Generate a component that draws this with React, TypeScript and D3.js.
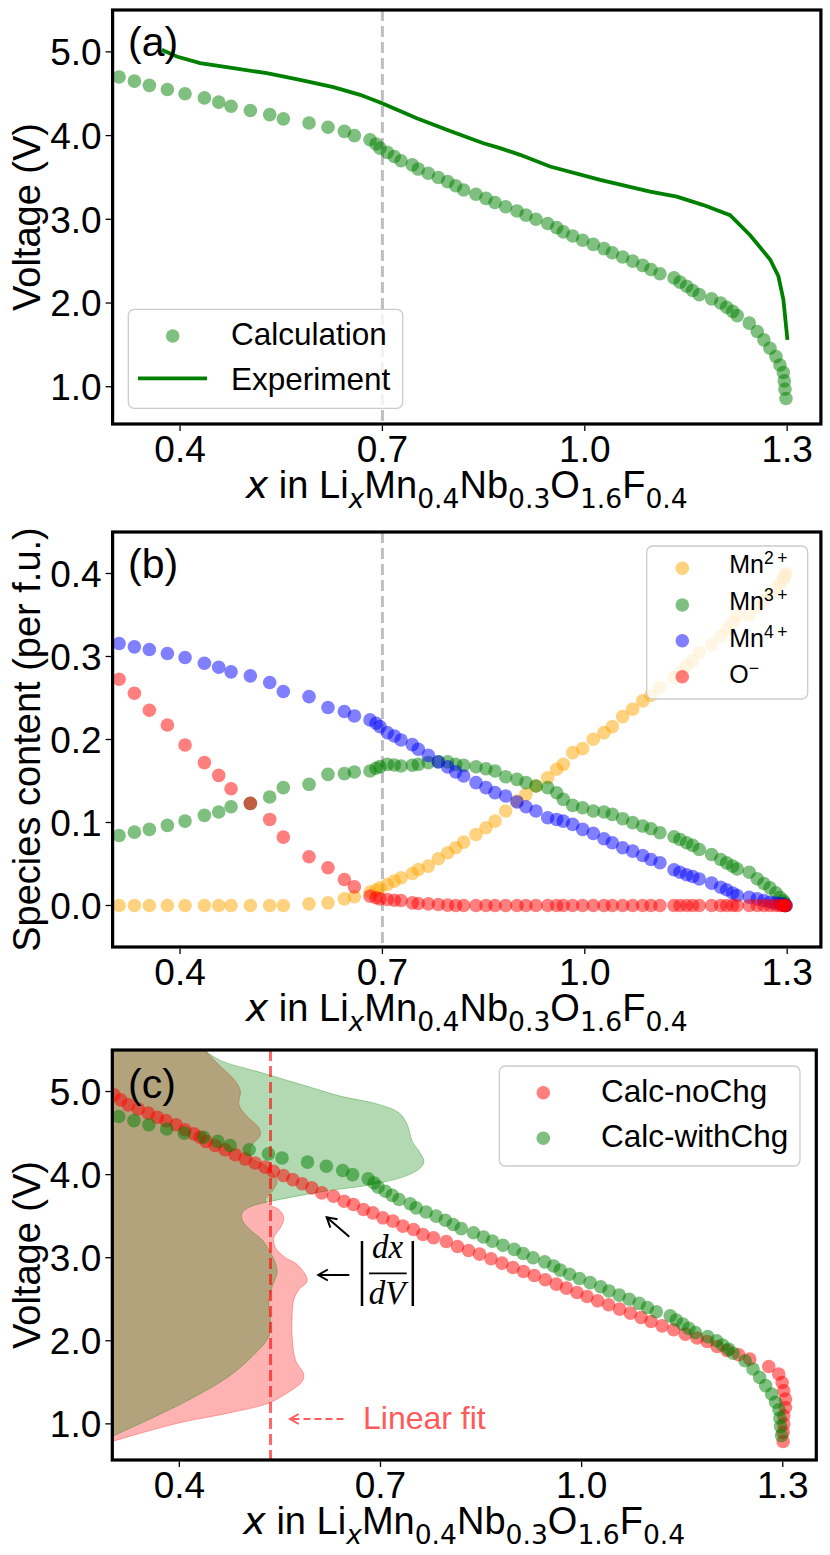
import React from 'react';
import * as d3 from 'd3';

const FONT = '"Liberation Sans", Arial, Helvetica, sans-serif';
const MATHFONT = '"DejaVu Sans", sans-serif';

// ---------- Panel (a) / (c): calculation with charge (x, V) ----------
const calcX = [
  0.3096, 0.3323, 0.3545, 0.3812, 0.4074, 0.4361, 0.4573, 0.4756, 0.5042, 0.5329,
  0.5531, 0.5912, 0.6193, 0.6436, 0.6584, 0.6816, 0.6905, 0.6964, 0.7073, 0.7176,
  0.7276, 0.7443, 0.7532, 0.768, 0.7829, 0.7967, 0.8086, 0.8204, 0.8387, 0.8535,
  0.8669, 0.8827, 0.8995, 0.9128, 0.9276, 0.945, 0.9583, 0.9681, 0.982, 0.9968,
  1.0126, 1.0284, 1.0408, 1.0561, 1.071, 1.0858, 1.0981, 1.1114, 1.1322, 1.1411,
  1.151, 1.1599, 1.1697, 1.188, 1.2014, 1.2103, 1.2192, 1.226, 1.2438, 1.2556,
  1.2655, 1.2745, 1.2834, 1.2893, 1.2943, 1.2957, 1.2967, 1.2982,
];
const calcV = [
  4.70, 4.65, 4.60, 4.55, 4.50, 4.45, 4.40, 4.35, 4.30, 4.25,
  4.20, 4.15, 4.10, 4.05, 4.00, 3.95, 3.90, 3.85, 3.80, 3.75,
  3.70, 3.65, 3.60, 3.55, 3.50, 3.45, 3.40, 3.35, 3.30, 3.25,
  3.20, 3.15, 3.10, 3.05, 3.00, 2.95, 2.90, 2.85, 2.80, 2.75,
  2.70, 2.65, 2.60, 2.55, 2.50, 2.45, 2.40, 2.35, 2.30, 2.25,
  2.20, 2.15, 2.10, 2.05, 2.00, 1.95, 1.90, 1.85, 1.76, 1.66,
  1.56, 1.46, 1.36, 1.26, 1.17, 1.07, 0.97, 0.86,
];

// ---------- Panel (a): experiment ----------
const expX = [
  0.3729, 0.3951, 0.4297, 0.479, 0.5285, 0.5779, 0.6273, 0.6669, 0.6995, 0.7509,
  0.8003, 0.8497, 0.8744, 0.9041, 0.9485, 1.0227, 1.0968, 1.1363, 1.1758, 1.2154,
  1.2451, 1.2747, 1.287, 1.2944, 1.3004,
];
const expV = [
  5.024, 4.944, 4.865, 4.805, 4.745, 4.666, 4.578, 4.487, 4.387, 4.208,
  4.055, 3.909, 3.85, 3.77, 3.63, 3.47, 3.33, 3.27, 3.17, 3.05,
  2.81, 2.52, 2.32, 2.04, 1.56,
];

// ---------- Panel (b): species content (per f.u.), same x as calcX ----------
const mn2Plus = [
  0, 0, 0, 0, 0, 0, 0, 0, 0, 0,
  0, 0.002, 0.0032, 0.008, 0.0105, 0.0161, 0.0185, 0.0213, 0.0253, 0.0294,
  0.0334, 0.0386, 0.0434, 0.0474, 0.0563, 0.0635, 0.0696, 0.0764, 0.0856, 0.0937,
  0.1017, 0.1138, 0.1258, 0.1339, 0.144, 0.154, 0.1641, 0.1701, 0.1842, 0.189,
  0.2003, 0.2083, 0.2155, 0.2276, 0.2365, 0.2465, 0.2534, 0.2626, 0.2747, 0.2807,
  0.2888, 0.2948, 0.3049, 0.3138, 0.3242, 0.3331, 0.3411, 0.3492, 0.35, 0.36,
  0.3675, 0.3747, 0.3817, 0.388, 0.393, 0.396, 0.3983, 0.4,
];
const mn3Plus = [
  0.0844, 0.0884, 0.0917, 0.0965, 0.1017, 0.1086, 0.1126, 0.119, 0.123, 0.1307,
  0.142, 0.146, 0.158, 0.1589, 0.1609, 0.1621, 0.1653, 0.1673, 0.1701, 0.1693,
  0.1681, 0.1689, 0.1701, 0.1721, 0.1733, 0.1731, 0.17, 0.1688, 0.1672, 0.1648,
  0.162, 0.1552, 0.152, 0.148, 0.144, 0.142, 0.1359, 0.1279, 0.1206, 0.1178,
  0.1138, 0.1126, 0.1098, 0.1046, 0.0998, 0.0957, 0.0925, 0.0877, 0.0828, 0.0796,
  0.0756, 0.0724, 0.0675, 0.0615, 0.0555, 0.0514, 0.0474, 0.044, 0.04, 0.0322,
  0.0265, 0.0213, 0.0153, 0.01, 0.006, 0.0035, 0.0015, 0,
];
const mn4Plus = [
  0.3156, 0.3116, 0.3084, 0.3036, 0.2988, 0.2919, 0.2871, 0.2815, 0.2767, 0.2686,
  0.2578, 0.2517, 0.2385, 0.2337, 0.2284, 0.2236, 0.2195, 0.2155, 0.2083, 0.2043,
  0.1994, 0.1938, 0.1882, 0.1809, 0.1729, 0.167, 0.161, 0.156, 0.148, 0.142,
  0.136, 0.132, 0.1247, 0.119, 0.1138, 0.1058, 0.1037, 0.1017, 0.0977, 0.0917,
  0.0869, 0.0804, 0.0756, 0.0696, 0.0655, 0.0603, 0.0555, 0.0515, 0.043, 0.04,
  0.037, 0.035, 0.032, 0.027, 0.022, 0.019, 0.015, 0.012, 0.01, 0.008,
  0.006, 0.004, 0.003, 0.002, 0.001, 0.0005, 0.0002, 0,
];
const oMinus = [
  0.2726, 0.2557, 0.2352, 0.2175, 0.1934, 0.1721, 0.1568, 0.1407, 0.123, 0.1037,
  0.0824, 0.0587, 0.0455, 0.0314, 0.0225, 0.0113, 0.0093, 0.008, 0.0072, 0.0064,
  0.006, 0.0032, 0.0024, 0.002, 0.0012, 0.0004, 0, 0, 0, 0,
  0, 0, 0, 0, 0, 0, 0, 0, 0, 0,
  0, 0, 0, 0, 0, 0, 0, 0, 0, 0,
  0, 0, 0, 0, 0, 0, 0, 0, 0, 0,
  0, 0, 0, 0, 0, 0, 0, 0,
];

// ---------- Panel (c): calculation without charge (x, V) ----------
const noChgX = [
  0.3025, 0.3125, 0.3239, 0.3388, 0.3537, 0.3672, 0.3801, 0.3951, 0.4085, 0.4219,
  0.4309, 0.4399, 0.4533, 0.4682, 0.4831, 0.4981, 0.513, 0.5279, 0.5403, 0.5552,
  0.5692, 0.5831, 0.5976, 0.6125, 0.6299, 0.6458, 0.6597, 0.6746, 0.6886, 0.7036,
  0.7185, 0.7334, 0.7493, 0.7633, 0.7791, 0.7981, 0.8149, 0.8313, 0.8478, 0.8648,
  0.8812, 0.8976, 0.9134, 0.9294, 0.9458, 0.9622, 0.9772, 0.9931, 1.0081, 1.0239,
  1.0403, 1.0567, 1.0727, 1.0887, 1.1036, 1.12, 1.1373, 1.1548, 1.1722, 1.1872,
  1.2021, 1.217, 1.2343, 1.2507, 1.2791, 1.294, 1.2991, 1.3015, 1.304, 1.304,
  1.3015, 1.3015, 1.3006, 1.3006,
];
const noChgV = [
  4.96, 4.90, 4.84, 4.79, 4.74, 4.69, 4.65, 4.60, 4.54, 4.49,
  4.45, 4.40, 4.35, 4.30, 4.24, 4.19, 4.14, 4.09, 4.04, 3.99,
  3.94, 3.89, 3.84, 3.78, 3.74, 3.68, 3.64, 3.58, 3.54, 3.48,
  3.44, 3.38, 3.34, 3.28, 3.24, 3.195, 3.135, 3.087, 3.043, 2.987,
  2.935, 2.882, 2.834, 2.786, 2.734, 2.682, 2.634, 2.581, 2.533, 2.481,
  2.433, 2.381, 2.333, 2.28, 2.232, 2.18, 2.132, 2.08, 2.033, 1.992,
  1.932, 1.883, 1.832, 1.78, 1.691, 1.60, 1.498, 1.398, 1.298, 1.197,
  1.097, 0.997, 0.897, 0.788,
];

// |dx/dV| profiles drawn horizontally (V -> right edge in x units)
const noChgFillV = [
  5.62, 5.478, 5.406, 5.285, 5.125, 5.005, 4.844, 4.723, 4.563, 4.483,
  4.32, 4.2, 4.08, 3.92, 3.8, 3.7, 3.64, 3.58, 3.48, 3.36,
  3.24, 3.12, 3.0, 2.935, 2.794, 2.714, 2.614, 2.494, 2.292, 2.052,
  1.771, 1.591, 1.51, 1.41, 1.25, 1.13, 1.01, 0.788, 0.5,
];
const noChgFillX = [
  0.435, 0.4413, 0.4487, 0.4637, 0.4836, 0.491, 0.4887, 0.4985, 0.5185, 0.5209,
  0.506, 0.5085, 0.5334, 0.5458, 0.5384, 0.5284, 0.5334, 0.5484, 0.5558, 0.5507,
  0.5409, 0.5433, 0.5582, 0.5731, 0.5881, 0.5906, 0.5782, 0.5707, 0.5682, 0.5682,
  0.5731, 0.5857, 0.5831, 0.5682, 0.5334, 0.4737, 0.3991, 0.2996, 0.18,
];
const withChgFillV = [
  5.62, 5.514, 5.478, 5.366, 5.225, 5.045, 4.945, 4.844, 4.744, 4.603,
  4.403, 4.283, 4.162, 4.082, 3.982, 3.881, 3.801, 3.729, 3.673, 3.613,
  3.54, 3.456, 3.336, 3.216, 3.095, 2.935, 2.815, 2.653, 2.454, 2.253,
  2.052, 1.811, 1.57, 1.33, 1.089, 0.848, 0.5,
];
const withChgFillX = [
  0.41, 0.4264, 0.4388, 0.4637, 0.5234, 0.5981, 0.64, 0.6976, 0.7275, 0.7399,
  0.7473, 0.7573, 0.7648, 0.7597, 0.7373, 0.6876, 0.6179, 0.5682, 0.5334, 0.5055,
  0.4936, 0.4936, 0.5055, 0.5234, 0.5334, 0.5433, 0.5458, 0.5384, 0.5334, 0.5358,
  0.5334, 0.5085, 0.4737, 0.4239, 0.3642, 0.2996, 0.21,
];

const xTicks = [0.4, 0.7, 1.0, 1.3];
const voltTicks = [1, 2, 3, 4, 5];
const speciesTicks = [0, 0.1, 0.2, 0.3, 0.4];
const dashedXab = 0.7;
const linearFitX = 0.536;

// ---------- scales ----------
const xA = d3.scaleLinear().domain([0.3, 1.35]).range([112.6, 820.9]);
const yA = d3.scaleLinear().domain([0.555, 5.5]).range([424, 10]);
const yB = d3.scaleLinear().domain([-0.05, 0.45]).range([947, 532]);
const xC = d3.scaleLinear().domain([0.3, 1.35]).range([112.3, 816.3]);
const yC = d3.scaleLinear().domain([0.565, 5.5]).range([1460, 1050]);

const R = 6.8;
const TICK_FS = 37;
const LABEL_FS = 38;

type Scale = d3.ScaleLinear<number, number>;

function Axes(props: {
  id: string;
  xs: Scale;
  ys: Scale;
  yTicks: number[];
  yFmt: (v: number) => string;
  ylabel: string;
  children?: React.ReactNode;
  overlay?: React.ReactNode;
}) {
  const { id, xs, ys, yTicks, yFmt, ylabel, children, overlay } = props;
  const [x0, x1] = xs.range();
  const [y1, y0] = ys.range();
  const cx = (x0 + x1) / 2;
  const cy = (y0 + y1) / 2;
  return (
    <g>
      <defs>
        <clipPath id={id}>
          <rect x={x0} y={y0} width={x1 - x0} height={y1 - y0} />
        </clipPath>
      </defs>
      <g clipPath={`url(#${id})`}>{children}</g>
      {overlay}
      <rect x={x0} y={y0} width={x1 - x0} height={y1 - y0} fill="none" stroke="#000" strokeWidth={3.2} />
      {xTicks.map((t) => (
        <g key={'x' + t}>
          <line x1={xs(t)} x2={xs(t)} y1={y1 + 1.5} y2={y1 + 7} stroke="#000" strokeWidth={1.3} />
          <text x={xs(t)} y={y1 + 38} textAnchor="middle" fontSize={TICK_FS} fontFamily={FONT}>
            {t.toFixed(1)}
          </text>
        </g>
      ))}
      {yTicks.map((t) => (
        <g key={'y' + t}>
          <line x1={x0 - 7} x2={x0 - 1.5} y1={ys(t)} y2={ys(t)} stroke="#000" strokeWidth={1.3} />
          <text x={x0 - 11} y={ys(t) + TICK_FS * 0.36} textAnchor="end" fontSize={TICK_FS} fontFamily={FONT}>
            {yFmt(t)}
          </text>
        </g>
      ))}
      <text
        transform={`translate(40, ${cy}) rotate(-90)`}
        textAnchor="middle"
        fontSize={LABEL_FS}
        fontFamily={FONT}
      >
        {ylabel}
      </text>
      <XLabel cx={cx} baseline={y1 + 74} />
    </g>
  );
}

function XLabel({ cx, baseline }: { cx: number; baseline: number }) {
  const sub = 26.6;
  const d = 10;
  return (
    <text x={cx} y={baseline} textAnchor="middle" fontSize={LABEL_FS} fontFamily={FONT}>
      <tspan fontStyle="italic" fontFamily={MATHFONT}>x</tspan>
      <tspan>{' in Li'}</tspan>
      <tspan fontStyle="italic" fontFamily={MATHFONT} fontSize={sub} dy={d}>x</tspan>
      <tspan dy={-d}>Mn</tspan>
      <tspan fontFamily={MATHFONT} fontSize={sub} dy={d}>0.4</tspan>
      <tspan dy={-d}>Nb</tspan>
      <tspan fontFamily={MATHFONT} fontSize={sub} dy={d}>0.3</tspan>
      <tspan dy={-d}>O</tspan>
      <tspan fontFamily={MATHFONT} fontSize={sub} dy={d}>1.6</tspan>
      <tspan dy={-d}>F</tspan>
      <tspan fontFamily={MATHFONT} fontSize={sub} dy={d}>0.4</tspan>
    </text>
  );
}

function Dots({ xs, ys, xv, yv, color }: { xs: Scale; ys: Scale; xv: number[]; yv: number[]; color: string }) {
  return (
    <g>
      {xv.map((x, i) => (
        <circle key={i} cx={xs(x)} cy={ys(yv[i])} r={R} fill={color} fillOpacity={0.5} />
      ))}
    </g>
  );
}

function LegendBox({ x, y, w, h }: { x: number; y: number; w: number; h: number }) {
  return <rect x={x} y={y} width={w} height={h} rx={6} fill="#fff" fillOpacity={0.8} stroke="#cccccc" strokeWidth={1.3} />;
}

type Pt = [number, number];

export default function App() {
  const line = d3
    .line<Pt>()
    .x((d) => xA(d[0]))
    .y((d) => yA(d[1]));
  const expPts: Pt[] = expX.map((x, i) => [x, expV[i]]);

  const area = d3
    .area<Pt>()
    .y((d) => yC(d[0]))
    .x0(() => xC(0.15))
    .x1((d) => xC(d[1]))
    .curve(d3.curveCatmullRom.alpha(0.5));
  const redFill: Pt[] = noChgFillV.map((v, i) => [v, noChgFillX[i]]);
  const greenFill: Pt[] = withChgFillV.map((v, i) => [v, withChgFillX[i]]);

  const fmt1 = (v: number) => v.toFixed(1);
  const lightRed = '#ff5a5a';

  const arrowHead = (tx: number, ty: number, fx: number, fy: number, len: number, color: string) => {
    const ang = Math.atan2(fy - ty, fx - tx);
    const a1 = ang + Math.PI / 6;
    const a2 = ang - Math.PI / 6;
    return (
      <path
        d={`M${tx + len * Math.cos(a1)},${ty + len * Math.sin(a1)} L${tx},${ty} L${tx + len * Math.cos(a2)},${ty + len * Math.sin(a2)}`}
        fill="none"
        stroke={color}
        strokeWidth={2}
      />
    );
  };

  return (
    <svg
      width={830}
      height={1555}
      viewBox="0 0 830 1555"
      style={{ position: 'absolute', left: 0, top: 0, display: 'block', background: '#fff' }}
    >
      <rect x={0} y={0} width={830} height={1555} fill="#fff" />

      {/* Panel (a) */}
      <Axes
        id="clipA"
        xs={xA}
        ys={yA}
        yTicks={voltTicks}
        yFmt={fmt1}
        ylabel="Voltage (V)"
        overlay={
          <g fontFamily={FONT}>
            <LegendBox x={128.3} y={309.3} w={274.4} h={99} />
            <circle cx={172.7} cy={336} r={R} fill="#008000" fillOpacity={0.5} />
            <line x1={138} x2={207} y1={378.3} y2={378.3} stroke="#008000" strokeWidth={3.8} />
            <text x={231} y={345} fontSize={31.5}>Calculation</text>
            <text x={231} y={389.5} fontSize={31.5}>Experiment</text>
            <text x={128} y={56} fontSize={41}>(a)</text>
          </g>
        }
      >
        <line
          x1={xA(dashedXab)}
          x2={xA(dashedXab)}
          y1={10}
          y2={424}
          stroke="#808080"
          strokeOpacity={0.5}
          strokeWidth={3}
          strokeDasharray="11,5"
        />
        <Dots xs={xA} ys={yA} xv={calcX} yv={calcV} color="#008000" />
        <path d={line(expPts) || ''} fill="none" stroke="#008000" strokeWidth={3.8} />
      </Axes>

      {/* Panel (b) */}
      <Axes
        id="clipB"
        xs={xA}
        ys={yB}
        yTicks={speciesTicks}
        yFmt={fmt1}
        ylabel="Species content (per f.u.)"
        overlay={
          <g fontFamily={FONT}>
            <LegendBox x={646.7} y={546} w={161} h={153} />
            <circle cx={682.3} cy={568.3} r={R} fill="#ffa500" fillOpacity={0.5} />
            <circle cx={682.3} cy={605} r={R} fill="#008000" fillOpacity={0.5} />
            <circle cx={682.3} cy={640.7} r={R} fill="#0000ff" fillOpacity={0.5} />
            <circle cx={682.3} cy={676.7} r={R} fill="#ff0000" fillOpacity={0.5} />
            <text x={729.3} y={573.3} fontSize={25}>
              Mn<tspan fontSize={17.5} dy={-9}>{'2\u2009+'}</tspan>
            </text>
            <text x={729.3} y={610} fontSize={25}>
              Mn<tspan fontSize={17.5} dy={-9}>{'3\u2009+'}</tspan>
            </text>
            <text x={729.3} y={646.7} fontSize={25}>
              Mn<tspan fontSize={17.5} dy={-9}>{'4\u2009+'}</tspan>
            </text>
            <text x={729.3} y={682.7} fontSize={25}>
              O<tspan fontSize={17.5} dy={-9}>{'\u2212'}</tspan>
            </text>
            <text x={128} y={578} fontSize={41}>(b)</text>
          </g>
        }
      >
        <line
          x1={xA(dashedXab)}
          x2={xA(dashedXab)}
          y1={532}
          y2={947}
          stroke="#808080"
          strokeOpacity={0.5}
          strokeWidth={3}
          strokeDasharray="11,5"
        />
        <Dots xs={xA} ys={yB} xv={calcX} yv={mn2Plus} color="#ffa500" />
        <Dots xs={xA} ys={yB} xv={calcX} yv={mn3Plus} color="#008000" />
        <Dots xs={xA} ys={yB} xv={calcX} yv={mn4Plus} color="#0000ff" />
        <Dots xs={xA} ys={yB} xv={calcX} yv={oMinus} color="#ff0000" />
      </Axes>

      {/* Panel (c) */}
      <Axes
        id="clipC"
        xs={xC}
        ys={yC}
        yTicks={voltTicks}
        yFmt={fmt1}
        ylabel="Voltage (V)"
        overlay={
          <g fontFamily={FONT}>
            <LegendBox x={499.3} y={1066} w={300.7} h={100} />
            <circle cx={543.3} cy={1092.7} r={R} fill="#ff0000" fillOpacity={0.5} />
            <circle cx={543.3} cy={1138.3} r={R} fill="#008000" fillOpacity={0.5} />
            <text x={601} y={1101.7} fontSize={31.5}>Calc-noChg</text>
            <text x={601} y={1146.7} fontSize={31.5}>Calc-withChg</text>
            <text x={128} y={1098} fontSize={41}>(c)</text>

            {/* annotation arrows */}
            <line x1={349.3} y1={1236.7} x2={326.7} y2={1217.3} stroke="#000" strokeWidth={2} />
            {arrowHead(326.7, 1217.3, 349.3, 1236.7, 11, '#000')}
            <line x1={349.3} y1={1275} x2={318.3} y2={1275} stroke="#000" strokeWidth={2} />
            {arrowHead(318.3, 1275, 349.3, 1275, 11, '#000')}

            {/* |dx/dV| */}
            <line x1={362} x2={362} y1={1241} y2={1306} stroke="#000" strokeWidth={2.5} />
            <line x1={412.8} x2={412.8} y1={1241} y2={1306} stroke="#000" strokeWidth={2.5} />
            <line x1={369} x2={406.7} y1={1273.3} y2={1273.3} stroke="#000" strokeWidth={1.8} />
            <text x={387.5} y={1258} textAnchor="middle" fontSize={33} fontStyle="italic" fontFamily='"Liberation Serif", "DejaVu Serif", serif'>
              dx
            </text>
            <text x={387} y={1304} textAnchor="middle" fontSize={33} fontStyle="italic" fontFamily='"Liberation Serif", "DejaVu Serif", serif'>
              dV
            </text>

            {/* Linear fit annotation */}
            <line x1={343.5} y1={1419} x2={291} y2={1419} stroke={lightRed} strokeWidth={2} strokeDasharray="7,4" />
            {arrowHead(290, 1419, 343.5, 1419, 10, lightRed)}
            <text x={363} y={1429} fontSize={32} fill={lightRed}>Linear fit</text>
          </g>
        }
      >
        <path d={area(redFill) || ''} fill="#ff0000" fillOpacity={0.3} stroke="#ff0000" strokeOpacity={0.3} strokeWidth={1} />
        <path d={area(greenFill) || ''} fill="#008000" fillOpacity={0.3} stroke="#008000" strokeOpacity={0.3} strokeWidth={1} />
        <Dots xs={xC} ys={yC} xv={noChgX} yv={noChgV} color="#ff0000" />
        <Dots xs={xC} ys={yC} xv={calcX} yv={calcV} color="#008000" />
        <line
          x1={xC(linearFitX)}
          x2={xC(linearFitX)}
          y1={1050}
          y2={1460}
          stroke="#ff0000"
          strokeOpacity={0.6}
          strokeWidth={3}
          strokeDasharray="11,5"
        />
      </Axes>
    </svg>
  );
}
